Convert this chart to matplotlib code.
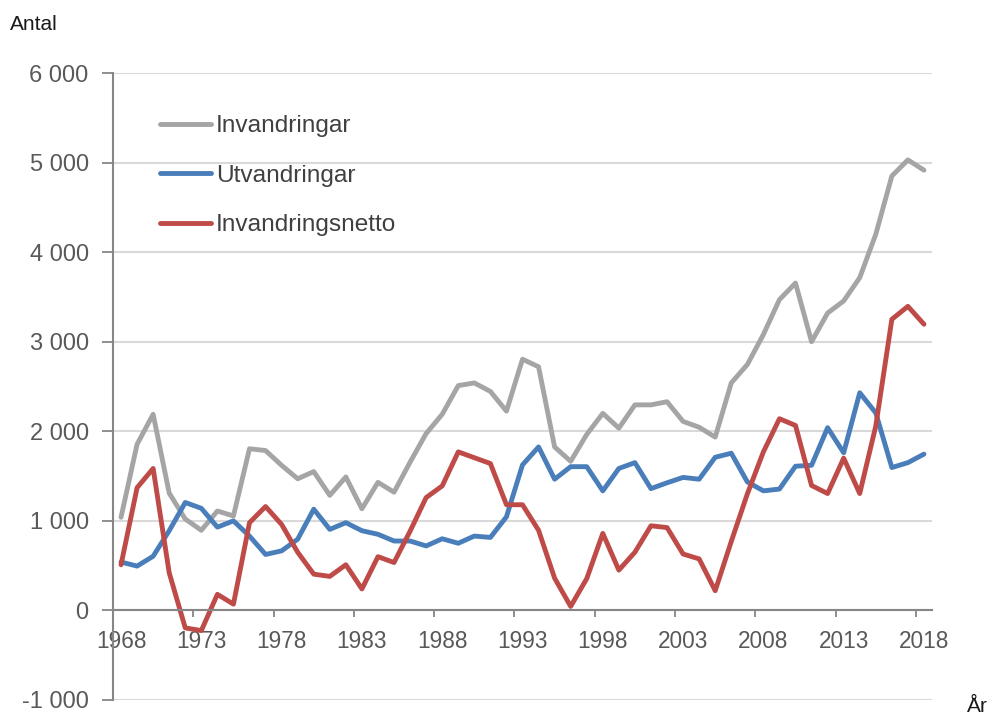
import matplotlib
matplotlib.use('Agg')
import matplotlib.pyplot as plt
from matplotlib.ticker import FuncFormatter

plt.rcParams['font.family'] = ['Liberation Sans', 'DejaVu Sans']

years = list(range(1968, 2019))

# invandringar (grey)
invandringar = [1040, 1855, 2190, 1310, 1020, 895, 1110, 1055, 1805, 1785,
                1620, 1470, 1550, 1285, 1490, 1135, 1430, 1320, 1655, 1975,
                2190, 2510, 2540, 2445, 2225, 2805, 2720, 1825, 1665, 1965,
                2200, 2035, 2295, 2295, 2330, 2110, 2045, 1935, 2540, 2745,
                3080, 3470, 3655, 3000, 3320, 3455, 3715, 4200, 4850, 5030,
                4915]

# utvandringar (blue)
utvandringar = [540, 495, 605, 890, 1205, 1140, 930, 1000, 830, 625,
                665, 795, 1130, 905, 980, 890, 850, 775, 775, 720,
                800, 750, 830, 815, 1045, 1625, 1825, 1465, 1605, 1605,
                1335, 1585, 1650, 1360, 1425, 1485, 1465, 1710, 1755, 1435,
                1335, 1355, 1610, 1620, 2040, 1760, 2430, 2205, 1595, 1650,
                1745]

# invandringsnetto (red)
netto = [510, 1370, 1585, 420, -195, -225, 180, 70, 980, 1160,
         960, 650, 405, 380, 510, 240, 600, 535, 885, 1260,
         1390, 1770, 1705, 1640, 1180, 1180, 895, 360, 45, 355,
         860, 450, 650, 945, 925, 630, 575, 220, 770, 1300,
         1770, 2140, 2065, 1395, 1305, 1700, 1305, 2060, 3250, 3395,
         3195]

labels = ['Invandringar', 'Utvandringar', 'Invandringsnetto']
colors = ['#A5A5A5', '#4A7EBB', '#BE4B48']

fig = plt.figure(figsize=(9.88, 7.15), dpi=100)
ax = fig.add_axes([113/988, 1 - 700/715, 819/988, 627/715])

for series, lab, c in zip([invandringar, utvandringar, netto], labels, colors):
    ax.plot(years, series, color=c, lw=3.5, label=lab,
            solid_joinstyle='round', solid_capstyle='round')

ax.set_xlim(1967.5, 2018.5)
ax.set_ylim(-1000, 6000)

# y axis
ax.set_yticks(range(-1000, 6001, 1000))
ax.yaxis.set_major_formatter(FuncFormatter(lambda v, p: f'{v:,.0f}'.replace(',', ' ')))
ax.grid(axis='y', color='#D9D9D9', lw=1.5)
ax.set_axisbelow(True)
ax.tick_params(axis='y', length=8, width=1.3, color='#868686', pad=9.5,
               labelsize=17, labelcolor='#595959')

# x axis: labels on categories, ticks between them
ax.set_xticks(years[::5])
ax.set_xticks([y - 0.5 for y in years[::5]], minor=True)
ax.tick_params(axis='x', which='major', length=0, pad=14,
               labelsize=16.3, labelcolor='#595959')
ax.tick_params(axis='x', which='minor', length=5, width=1.3, color='#868686')

ax.spines['bottom'].set_position(('data', 0))
for s in ['top', 'right']:
    ax.spines[s].set_visible(False)
for s in ['left', 'bottom']:
    ax.spines[s].set_color('#868686')
    ax.spines[s].set_linewidth(1.5)

ax.legend(loc='upper left', bbox_to_anchor=(160/988, 1 - 115/715),
          bbox_transform=fig.transFigure, frameon=False, fontsize=17.6,
          handlelength=2.1, handletextpad=0.2, labelspacing=1.12,
          borderpad=0, borderaxespad=0, labelcolor='#404040')

fig.text(10/988, 1 - 25/715, 'Antal', fontsize=15, color='#1a1a1a', va='center')
fig.text(967/988, 1 - 707/715, 'År', fontsize=15, color='#1a1a1a', va='center')

plt.savefig('out.png', dpi=100)
